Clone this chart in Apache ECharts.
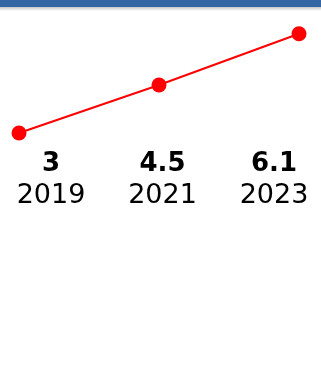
<!DOCTYPE html>
<html>
<head>
<meta charset="utf-8">
<script src="https://cdn.jsdelivr.net/npm/echarts@6/dist/echarts.min.js"></script>
<style>
html,body{margin:0;padding:0;background:#fff;}
#chart{width:321px;height:368px;}
</style>
</head>
<body>
<div id="chart"></div>
<script>
// years and values
var years = ['2019', '2021', '2023'];
var values = [3, 4.5, 6.1];

var myChart = echarts.init(document.getElementById('chart'));
var option = {
    animation: false,
    graphic: [
        {type: 'rect', left: 0, top: 0, shape: {width: 321, height: 7}, style: {fill: '#3465a4'}},
        {type: 'rect', left: 0, top: 7, shape: {width: 321, height: 4},
         style: {fill: new echarts.graphic.LinearGradient(0, 0, 0, 1, [
             {offset: 0, color: '#c8c8c8'}, {offset: 1, color: '#ffffff'}])}}
    ],
    grid: [
        // line
        {left: 19, right: 22, top: 33, height: 100, containLabel: false, outerBoundsMode: 'none'},
        // labels under the line
        {left: 51, right: 47, top: 133, height: 1, containLabel: false, outerBoundsMode: 'none'}
    ],
    xAxis: [{
        type: 'category',
        data: years,
        boundaryGap: false,
        show: false
    }, {
        type: 'category',
        gridIndex: 1,
        data: years,
        boundaryGap: false,
        axisLine: {show: false},
        axisTick: {show: false},
        axisLabel: {
            margin: 15,
            interval: 0,
            hideOverlap: false,
            formatter: function (val, idx) {
                return '{v|' + values[idx] + '}\n{y|' + val + '}';
            },
            rich: {
                v: {fontFamily: 'DejaVu Sans', fontWeight: 'bold', fontSize: 26, color: '#000', lineHeight: 30},
                y: {fontFamily: 'DejaVu Sans', fontSize: 27, color: '#000', lineHeight: 34}
            }
        }
    }],
    yAxis: [
        {type: 'value', min: 3, max: 6.125, show: false},
        {type: 'value', gridIndex: 1, show: false}
    ],
    series: [{
        type: 'line',
        data: values,
        symbol: 'circle',
        symbolSize: 15,
        lineStyle: {color: '#ff0000', width: 2},
        itemStyle: {color: '#ff0000'}
    }]
};
myChart.setOption(option, true);
</script>
</body>
</html>
